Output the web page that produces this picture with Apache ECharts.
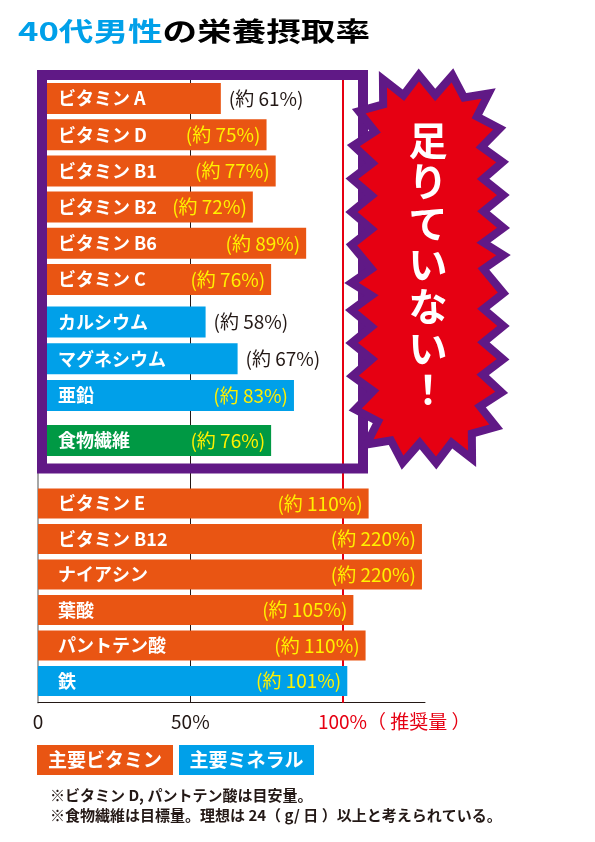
<!DOCTYPE html>
<html><head><meta charset="utf-8">
<script src="https://cdn.jsdelivr.net/npm/echarts@6/dist/echarts.min.js"></script>
<style>html,body{margin:0;padding:0;background:#fff}#c{width:595px;height:842px}</style>
</head><body><div id="c"></div>
<script>
// ---- data ----
const titleBlue = '40代男性';
const titleBlack = 'の栄養摂取率';

const vitNames = ['ビタミン A', 'ビタミン D', 'ビタミン B1', 'ビタミン B2', 'ビタミン B6', 'ビタミン C'];
const vitValues = [60, 75, 78, 70.5, 88, 76.5];           // bar length (% of recommended)
const vitLabels = ['61', '75', '77', '72', '89', '76'];
const vitKinds = ['vitamin', 'vitamin', 'vitamin', 'vitamin', 'vitamin', 'vitamin'];

const minNames = ['カルシウム', 'マグネシウム', '亜鉛'];
const minValues = [55, 65.5, 84];
const minLabels = ['58', '67', '83'];
const minKinds = ['mineral', 'mineral', 'mineral'];

const fibNames = ['食物繊維'];
const fibValues = [76.5];
const fibLabels = ['76'];
const fibKinds = ['fiber'];

const okNames = ['ビタミン E', 'ビタミン B12', 'ナイアシン', '葉酸', 'パントテン酸', '鉄'];
const okValues = [108.5, 126, 126, 103.5, 107.5, 101.5];
const okLabels = ['110', '220', '220', '105', '110', '101'];
const okKinds = ['vitamin', 'vitamin', 'vitamin', 'vitamin', 'vitamin', 'mineral'];

const xTicks = [0, 50, 100];
const xTickLabels = ['0', '50%', '100%'];
const recommendText = '（ 推奨量 ）';
const legendNames = ['主要ビタミン', '主要ミネラル'];
const notes = ['※ビタミン D, パントテン酸は目安量。', '※食物繊維は目標量。理想は 24（ g/ 日 ）以上と考えられている。'];
const burstText = '足りていない！';

// ---- style ----
const ORANGE = '#E95513', BLUE = '#00A0E9', GREEN = '#009944', PURPLE = '#601986', RED = '#E60012', YELLOW = '#FFF100';
const FONT = '"Noto Sans CJK JP", "Noto Sans", sans-serif';
const colorOf = { vitamin: ORANGE, mineral: BLUE, fiber: GREEN };
const X_MAX = 127;
const GL = 38, GR = 595 - 425;

const barGrids = [
  { top: 80.4, height: 217.2, bw: 31, names: vitNames, values: vitValues, labels: vitLabels, kinds: vitKinds },
  { top: 303.6, height: 110.3, bw: 31, names: minNames, values: minValues, labels: minLabels, kinds: minKinds },
  { top: 422.5, height: 36, bw: 31, names: fibNames, values: fibValues, labels: fibLabels, kinds: fibKinds },
  { top: 485.75, height: 213, bw: 30, names: okNames, values: okValues, labels: okLabels, kinds: okKinds }
];

const grid = [{ left: GL, right: GR, top: 80, bottom: 842 - 702.7 }];
const xAxis = [{
  gridIndex: 0, type: 'value', min: 0, max: X_MAX, interval: 50,
  axisLine: { show: true, lineStyle: { color: '#231815', width: 1 } },
  axisTick: { show: false }, splitLine: { show: false },
  axisLabel: {
    margin: 10, fontSize: 19, fontFamily: FONT, color: '#231815',
    formatter: function (v) {
      const i = xTicks.indexOf(v);
      if (i < 0) return '';
      if (v === 100) return '{pad|}{r|' + xTickLabels[i] + recommendText + '}';
      return xTickLabels[i];
    },
    rich: {
      pad: { width: 103 },
      r: { color: RED, fontSize: 19, fontFamily: FONT }
    }
  }
}];
const yAxis = [{
  gridIndex: 0, type: 'value', min: 0, max: 1,
  axisLine: { show: true, lineStyle: { color: '#8a8a8a', width: 1.5 } },
  axisTick: { show: false }, axisLabel: { show: false }, splitLine: { show: false }
}];
const series = [{
  type: 'line', xAxisIndex: 0, yAxisIndex: 0, data: [], showSymbol: false, z: 1, silent: true,
  markLine: {
    silent: true, symbol: 'none', label: { show: false }, animation: false, z: 1,
    data: [
      { xAxis: 50, lineStyle: { color: '#231815', width: 1, type: 'solid' } },
      { xAxis: 100, lineStyle: { color: RED, width: 2, type: 'solid' } }
    ]
  }
}];

barGrids.forEach(function (g, k) {
  const gi = k + 1;
  grid.push({ left: GL, right: GR, top: g.top, height: g.height });
  xAxis.push({ gridIndex: gi, type: 'value', min: 0, max: X_MAX, show: false });
  yAxis.push({ gridIndex: gi, type: 'category', data: g.names, inverse: true, show: false });
  series.push({
    type: 'bar', xAxisIndex: gi, yAxisIndex: gi, barWidth: g.bw, z: 3,
    data: g.values.map(function (v, i) { return { value: v, itemStyle: { color: colorOf[g.kinds[i]] } }; }),
    label: { show: true, position: 'insideLeft', distance: 20, color: '#fff', fontWeight: 'bold', fontSize: 18, fontFamily: FONT, formatter: function (p) { return p.name; } }
  });
  series.push({
    type: 'bar', xAxisIndex: gi, yAxisIndex: gi, barWidth: g.bw, barGap: '-100%', z: 4,
    itemStyle: { color: 'rgba(0,0,0,0)' },
    data: g.values.map(function (v, i) {
      const outside = v < 68;
      return {
        value: v,
        label: {
          show: true, position: outside ? 'right' : 'insideRight', distance: outside ? 8 : 6,
          color: outside ? '#231815' : YELLOW, fontSize: 19, fontFamily: FONT,
          formatter: '(約 ' + g.labels[i] + '%)'
        }
      };
    })
  });
});

// starburst polygon (decoration): spikes along a rounded-rectangle (superellipse) outline
function burst(cx, cy, a, b, ex, n, d, phase) {
  const M = 4000, pts = [], len = [0];
  for (let i = 0; i <= M; i++) {
    const t = -Math.PI / 2 + 2 * Math.PI * i / M;
    const c = Math.cos(t), s = Math.sin(t);
    pts.push([cx + a * Math.sign(c) * Math.pow(Math.abs(c), 2 / ex), cy + b * Math.sign(s) * Math.pow(Math.abs(s), 2 / ex)]);
    if (i > 0) len.push(len[i - 1] + Math.hypot(pts[i][0] - pts[i - 1][0], pts[i][1] - pts[i - 1][1]));
  }
  const P = len[M], out = [];
  let j = 0;
  for (let k = 0; k < 2 * n; k++) {
    const target = ((k + phase) / (2 * n)) * P % P;
    j = 0;
    while (j < M - 1 && len[j + 1] < target) j++;
    const p = pts[j], q = pts[Math.min(j + 6, M)], r = pts[Math.max(j - 6, 0)];
    let tx = q[0] - r[0], ty = q[1] - r[1];
    const tl = Math.hypot(tx, ty) || 1; tx /= tl; ty /= tl;
    const nx = -ty, ny = tx;
    const off = (k % 2 === 0) ? d : -d;
    out.push([p[0] + nx * off, p[1] + ny * off]);
  }
  return out;
}

const graphic = [
  {
    type: 'text', z: 12, silent: true, x: 18, y: 18, scaleX: 1.33, originX: 0,
    style: {
      text: '{a|' + titleBlue + '}{b|' + titleBlack + '}', verticalAlign: 'top',
      rich: {
        a: { fill: BLUE, fontSize: 26, fontWeight: 'bold', fontFamily: FONT },
        b: { fill: '#000', fontSize: 26, fontWeight: 'bold', fontFamily: FONT }
      }
    }
  },
  { type: 'rect', z: 10, silent: true, shape: { x: 42, y: 75, width: 321, height: 393.5 }, style: { fill: 'none', stroke: PURPLE, lineWidth: 10 } },
  { type: 'polygon', z: 11, silent: true, shape: { points: burst(427.5, 269, 66, 184, 5, 28, 10, 0.5) }, style: { fill: RED, stroke: PURPLE, lineWidth: 8, lineJoin: 'miter' } },
  { type: 'text', z: 12, silent: true, x: 428, y: 119, style: { text: burstText.split('').join('\n'), fill: '#fff', font: 'bold 39px ' + FONT, lineHeight: 41.6, align: 'center', verticalAlign: 'top' } },
  { type: 'rect', z: 10, silent: true, shape: { x: 37, y: 745, width: 136, height: 30 }, style: { fill: ORANGE } },
  { type: 'text', z: 11, silent: true, x: 105, y: 760, style: { text: legendNames[0], fill: '#fff', font: 'bold 19px ' + FONT, align: 'center', verticalAlign: 'middle' } },
  { type: 'rect', z: 10, silent: true, shape: { x: 179, y: 745, width: 135, height: 30 }, style: { fill: BLUE } },
  { type: 'text', z: 11, silent: true, x: 246.5, y: 760, style: { text: legendNames[1], fill: '#fff', font: 'bold 19px ' + FONT, align: 'center', verticalAlign: 'middle' } },
  { type: 'text', z: 11, silent: true, x: 50, y: 795, style: { text: notes[0], fill: '#231815', font: 'bold 15px ' + FONT, verticalAlign: 'middle' } },
  { type: 'text', z: 11, silent: true, x: 50, y: 815, style: { text: notes[1], fill: '#231815', font: 'bold 15px ' + FONT, verticalAlign: 'middle' } }
];

const chart = echarts.init(document.getElementById('c'), null, { renderer: 'canvas' });
chart.setOption({
  animation: false,
  backgroundColor: '#fff',
  grid: grid, xAxis: xAxis, yAxis: yAxis, series: series, graphic: graphic
});
</script></body></html>
